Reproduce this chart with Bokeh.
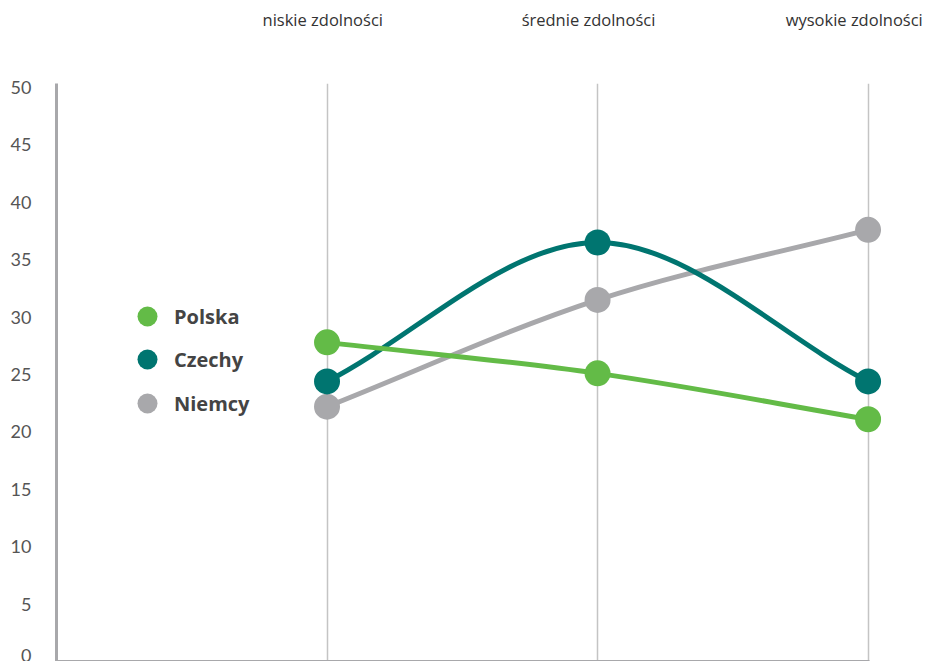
from bokeh.plotting import figure
from bokeh.models import (Range1d, FixedTicker, LinearAxis, Legend, LegendItem, ColumnDataSource)
from bokeh.embed import file_html
from bokeh.resources import INLINE

categories = ["niskie zdolności", "średnie zdolności", "wysokie zdolności"]
polska = [27.8, 25.1, 21.1]
czechy = [24.4, 36.5, 24.4]
niemcy = [22.2, 31.5, 37.6]
series_names = ["Polska", "Czechy", "Niemcy"]
colors = ["#63bb47", "#007570", "#a8a8ab"]
y_ticks = [0, 5, 10, 15, 20, 25, 30, 35, 40, 45, 50]

p = figure(width=926, height=661, output_backend="svg", toolbar_location=None,
           x_range=Range1d(-1, 2.216), y_range=Range1d(0, 50.35),
           min_border_left=56, min_border_right=0, min_border_top=83, min_border_bottom=0,
           outline_line_color=None, background_fill_color="white", border_fill_color="white")
p.extra_x_ranges = {"labels": Range1d(-1.002, 2.272)}

# axes
p.xaxis.ticker = FixedTicker(ticks=[])
p.xaxis.bounds = (-1, 2.005)
p.xaxis.axis_line_color = "#a8a8ab"
p.xaxis.axis_line_width = 3
p.xaxis.major_tick_line_color = None
p.xaxis.minor_tick_line_color = None
p.xaxis.major_label_text_font_size = "0px"

p.yaxis.ticker = FixedTicker(ticks=y_ticks)
p.yaxis.axis_line_color = "#a8a8ab"
p.yaxis.axis_line_width = 3
p.yaxis.major_tick_line_color = None
p.yaxis.minor_tick_line_color = None
p.yaxis.major_label_standoff = 19
p.yaxis.major_label_text_font = "Lato"
p.yaxis.major_label_text_font_size = "18px"
p.yaxis.major_label_text_color = "#555555"

top = LinearAxis(x_range_name="labels", ticker=FixedTicker(ticks=[0, 1, 2]),
                 major_label_overrides={i: c for i, c in enumerate(categories)})
top.axis_line_color = None
top.major_tick_line_color = None
top.minor_tick_line_color = None
top.major_label_standoff = 47
top.major_label_text_font = "Open Sans"
top.major_label_text_font_size = "16.5px"
top.major_label_text_color = "#333333"
p.add_layout(top, "above")

p.ygrid.grid_line_color = None
p.xgrid.ticker = FixedTicker(ticks=[0, 1, 2])
p.xgrid.grid_line_color = "#c4c4c4"
p.xgrid.grid_line_width = 1.5

def smooth_segments(ys):
    xs = list(range(len(ys)))
    n = len(ys)
    tang = []
    for i in range(n):
        if i == 0:
            tang.append(ys[1] - ys[0])
        elif i == n - 1:
            tang.append(ys[n - 1] - ys[n - 2])
        else:
            tang.append((ys[i + 1] - ys[i - 1]) / 2)
    seg = dict(x0=[], y0=[], x1=[], y1=[], cx0=[], cy0=[], cx1=[], cy1=[])
    for i in range(n - 1):
        seg["x0"].append(xs[i]); seg["y0"].append(ys[i])
        seg["x1"].append(xs[i + 1]); seg["y1"].append(ys[i + 1])
        seg["cx0"].append(xs[i] + 1 / 3); seg["cy0"].append(ys[i] + tang[i] / 3)
        seg["cx1"].append(xs[i + 1] - 1 / 3); seg["cy1"].append(ys[i + 1] - tang[i + 1] / 3)
    return ColumnDataSource(seg)

data = {"Polska": polska, "Czechy": czechy, "Niemcy": niemcy}
order = ["Niemcy", "Czechy", "Polska"]
col = dict(zip(series_names, colors))

for name in order:
    p.bezier(x0="x0", y0="y0", x1="x1", y1="y1", cx0="cx0", cy0="cy0", cx1="cx1", cy1="cy1",
             source=smooth_segments(data[name]), line_color=col[name], line_width=5,
             line_cap="round")

markers = {}
for name in order:
    markers[name] = p.scatter(x=[0, 1, 2], y=data[name], size=26, fill_color=col[name],
                              line_color=None)

tops = [315, 358, 402]
for name, cy in zip(series_names, tops):
    leg = Legend(items=[LegendItem(label=name, renderers=[markers[name]])],
                 location=(66, 660 - cy - 25), glyph_width=50, glyph_height=50,
                 label_height=50, label_standoff=2, padding=0, margin=0, spacing=0,
                 border_line_color=None, background_fill_alpha=0,
                 label_text_font="Open Sans", label_text_font_style="bold",
                 label_text_font_size="20px", label_text_color="#444444")
    p.add_layout(leg, "center")

open("out.html", "w").write(file_html(p, INLINE))
